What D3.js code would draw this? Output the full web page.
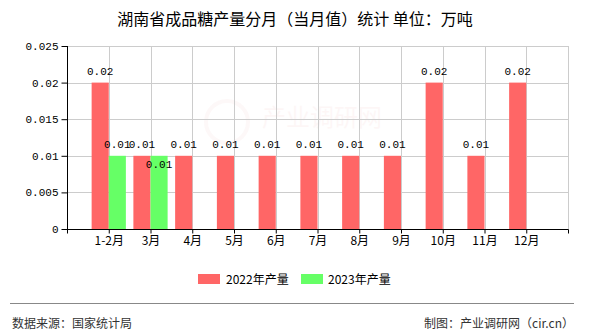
<!DOCTYPE html>
<html><head><meta charset="utf-8">
<script src="https://cdn.jsdelivr.net/npm/d3@7"></script>
<style>body{margin:0;background:#fff}svg{display:block}</style>
</head><body>
<script>
const categories = ["1-2月","3月","4月","5月","6月","7月","8月","9月","10月","11月","12月"];
const seriesNames = ["2022年产量","2023年产量"];
const values2022 = [0.02,0.01,0.01,0.01,0.01,0.01,0.01,0.01,0.02,0.01,0.02];
const values2023 = [0.01,0.01,null,null,null,null,null,null,null,null,null];
const yTicks = [0,0.005,0.01,0.015,0.02,0.025];
const yTickLabels = ["0","0.005","0.01","0.015","0.02","0.025"];
const colors = ["#ff6666","#66ff66"];

(function(){
const W=590,H=330;
const svg=d3.select("body").append("svg").attr("width",W).attr("height",H);
const pL=67,pR=568,pT=46,pB=229;
const x=d3.scaleLinear().domain([0,categories.length+1]).range([pL,pR]);
const y=d3.scaleLinear().domain([0,0.025]).range([pB,pT]);
const step=x(1)-x(0), bw=step*0.41;
const mono="'Liberation Mono','DejaVu Sans Mono',monospace";
const cjk="'Noto Sans CJK SC','Noto Sans',sans-serif";

// title
svg.append("text").attr("x",295).attr("y",25).attr("text-anchor","middle")
 .attr("font-family",cjk).attr("font-size",16).attr("fill","#000")
 .text("湖南省成品糖产量分月（当月值）统计 单位：万吨");

// watermark (very faint)
const wm=svg.append("g").attr("opacity",0.035);
wm.append("circle").attr("cx",227).attr("cy",122).attr("r",21).attr("fill","none").attr("stroke","#d03030").attr("stroke-width",4);
wm.append("text").attr("x",262).attr("y",126).attr("font-family",cjk).attr("font-size",24).attr("fill","#d03030").text("产业调研网");

// grid
const xt=d3.range(0,categories.length+2);
svg.append("g").selectAll("line").data(yTicks.slice(1)).join("line")
 .attr("x1",pL).attr("x2",pR).attr("y1",d=>Math.round(y(d))+0.5).attr("y2",d=>Math.round(y(d))+0.5)
 .attr("stroke","#cccccc");
svg.append("g").selectAll("line").data(xt.slice(1)).join("line")
 .attr("x1",d=>Math.round(x(d))+0.5).attr("x2",d=>Math.round(x(d))+0.5).attr("y1",pT).attr("y2",pB)
 .attr("stroke","#cccccc");

// bars
const series=[values2022,values2023];
series.forEach((vals,si)=>{
  svg.append("g").selectAll("rect").data(vals.map((v,i)=>({v,i})).filter(d=>d.v!=null)).join("rect")
   .attr("x",d=>si===0? x(d.i+1)-bw : x(d.i+1))
   .attr("y",d=>y(d.v)).attr("width",bw).attr("height",d=>y(0)-y(d.v))
   .attr("fill",colors[si]);
});

// axes
const yAxis=d3.axisLeft(y).tickValues(yTicks).tickFormat((d,i)=>yTickLabels[i]).tickSize(6).tickPadding(3);
const gy=svg.append("g").attr("transform",`translate(${pL+0.5},0)`).call(yAxis);
gy.selectAll("text").attr("font-family",mono).attr("font-size",11).attr("fill","#000");
gy.selectAll("line,path").attr("stroke","#000");
gy.select(".domain").attr("d",`M0,${pT}V${pB+0.5}`);

const xAxis=d3.axisBottom(x).tickValues(xt).tickFormat(d=>(d>=1&&d<=categories.length)?categories[d-1]:"").tickSize(4).tickPadding(3);
const gx=svg.append("g").attr("transform",`translate(0,${pB+0.5})`).call(xAxis);
gx.selectAll("text").attr("font-family",cjk).attr("font-size",12).attr("fill","#000");
gx.selectAll("line,path").attr("stroke","#000");
gx.select(".domain").attr("d",`M${pL},0H${pR+0.5}`);

// data labels with simple collision avoidance
const placed=[];
const lw=24;
series.forEach((vals,si)=>{
  vals.forEach((v,i)=>{
    if(v==null) return;
    const cx= si===0? x(i+1)-bw/2 : x(i+1)+bw/2;
    let yy=y(v)-8;
    const hit=placed.some(p=>Math.abs(p.cx-cx)<lw && Math.abs(p.y-yy)<10);
    if(hit) yy=y(v)+12;
    placed.push({cx,y:yy});
    svg.append("text").attr("x",cx).attr("y",yy).attr("text-anchor","middle")
     .attr("font-family",mono).attr("font-size",11).attr("fill","#000").text(v);
  });
});

// legend
const lg=svg.append("g");
[[198,226],[301,328]].forEach((p,i)=>{
  lg.append("rect").attr("x",p[0]).attr("y",274).attr("width",22).attr("height",10).attr("fill",colors[i]);
  lg.append("text").attr("x",p[1]).attr("y",283.5).attr("font-family",cjk).attr("font-size",12).attr("fill","#000").text(seriesNames[i]);
});

// footer
svg.append("line").attr("x1",10).attr("x2",574).attr("y1",303.5).attr("y2",303.5).attr("stroke","#888");
svg.append("text").attr("x",12).attr("y",327.5).attr("font-family",cjk).attr("font-size",12).attr("fill","#333").text("数据来源：国家统计局");
svg.append("text").attr("x",574).attr("y",327.5).attr("text-anchor","end").attr("font-family",cjk).attr("font-size",12).attr("fill","#333").text("制图：产业调研网（cir.cn）");
})();
</script>
</body></html>
